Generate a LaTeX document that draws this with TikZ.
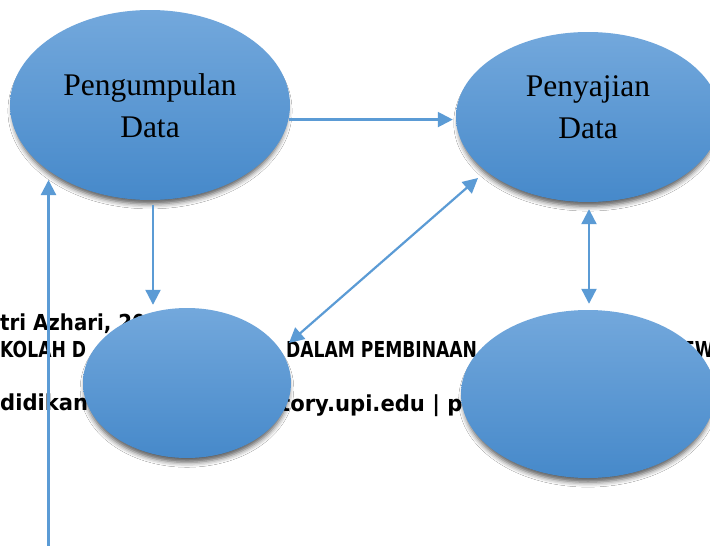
\documentclass[tikz,border=0pt]{standalone}
\usepackage{fontspec}
\setmainfont{Liberation Serif}
\newfontfamily\bgA[FakeStretch=0.9]{DejaVu Sans}
\newfontfamily\bgB[FakeStretch=0.78]{DejaVu Sans}
\newfontfamily\bgC[FakeStretch=0.96]{DejaVu Sans}
\usetikzlibrary{shapes.geometric,arrows.meta,calc,shadows.blur}
\definecolor{arrblue}{HTML}{5B9BD5}
\definecolor{eltop}{HTML}{73A8DC}
\definecolor{elmid}{HTML}{5A9BD8}
\definecolor{elbot}{HTML}{4689CA}
\tikzset{
  blob/.style={ellipse, inner sep=0pt, draw=none,
    top color=eltop, middle color=elmid, bottom color=elbot,
    blur shadow={shadow xshift=0pt, shadow yshift=-6pt, shadow scale=0.98, shadow blur radius=5pt, shadow opacity=65}},
  conn/.style={draw=arrblue, line width=2.2pt, -{Triangle[length=15pt,width=15pt]}},
  dconn/.style={draw=arrblue, line width=2.2pt, {Triangle[length=15pt,width=15pt]}-{Triangle[length=15pt,width=15pt]}},
  lbl/.style={inner sep=0pt, align=center, font=\fontsize{31.5}{41.5}\selectfont},
  bgtext/.style={inner sep=0pt, anchor=base west, font=\fontsize{22}{26}\selectfont\bfseries}
}
\begin{document}
\begin{tikzpicture}[x=1pt,y=-1pt]
\useasboundingbox (0,0) rectangle (710,546);
\clip (0,0) rectangle (710,546);
\fill[white] (0,0) rectangle (710,546);
% background page text
\node[bgtext] (b1) at (0,330) {\bgA tri Azhari, 20};
\node[bgtext] (b2) at (0,357.5) {\bgB KOLAH D};
\node[bgtext] (b3) at (286,357.5) {\bgB DALAM PEMBINAAN};
\node[bgtext] (b4) at (683,357.5) {\bgB EW};
\node[bgtext] (b5) at (0,410) {\bgC didikan I};
\node[bgtext] (b6) at (280,411) {\bgC tory.upi.edu | p};
% ellipses
\node[blob, minimum width=280pt, minimum height=190pt] (e1) at (150,105) {};
\node[blob, minimum width=264pt, minimum height=170pt] (e2) at (588,117) {};
\node[blob, minimum width=208pt, minimum height=150pt] (e3) at (187,383) {};
\node[blob, minimum width=254pt, minimum height=168pt] (e4) at (588,394) {};
% labels
\node[lbl] (t1) at (150,105.7) {Pengumpulan\\Data};
\node[lbl] (t2) at (588,107) {Penyajian\\Data};
% connectors
\draw[conn] (e1.-6) -- ($(e2.west |- e1.-6)+(-3,0)$);
\draw[conn] ($(e1.south)+(3,5)$) -- ($(e1.south |- e3.north)+(3,-3)$);
\draw[dconn] ($(e3.center)+(102,-40)$) -- ($(e2.center)+(-110,61)$);
\draw[dconn] ($(e2.south)+(1,7)$) -- ($(e4.north)+(1,-6)$);
\coordinate (c0) at (48.5,546);
\draw[conn] (c0) -- ($(e1.center)+(-101.5,75)$);
\end{tikzpicture}
\end{document}
